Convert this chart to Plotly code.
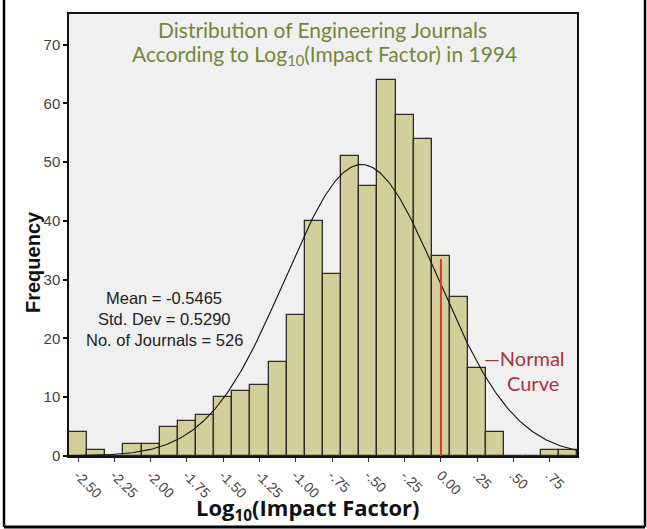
import numpy as np
import plotly.graph_objects as go

# ---- data ----
bin_centers = [-2.5, -2.375, -2.25, -2.125, -2.0, -1.875, -1.75, -1.625, -1.5, -1.375,
               -1.25, -1.125, -1.0, -0.875, -0.75, -0.625, -0.5, -0.375, -0.25, -0.125,
               0.0, 0.125, 0.25, 0.375, 0.5, 0.625, 0.75, 0.875]
frequencies = [4, 1, 0, 2, 2, 5, 6, 7, 10, 11,
               12, 16, 24, 40, 31, 51, 46, 64, 58, 54,
               34, 27, 15, 4, 0, 0, 1, 1]
bin_width = 0.125
tick_values = [-2.5, -2.25, -2.0, -1.75, -1.5, -1.25, -1.0, -0.75, -0.5, -0.25, 0.0, 0.25, 0.5, 0.75]
tick_labels = ["-2.50", "-2.25", "-2.00", "-1.75", "-1.50", "-1.25", "-1.00",
               "-.75", "-.50", "-.25", "0.00", ".25", ".50", ".75"]
y_ticks = [0, 10, 20, 30, 40, 50, 60, 70]
mean_val = -0.5465
std_val = 0.5290
n_journals = 526
stats_lines = ["Mean = -0.5465", "Std. Dev = 0.5290", "No. of Journals = 526"]
title_lines = ["Distribution of Engineering Journals",
               "According to Log<sub>10</sub>(Impact Factor) in 1994"]
marker_x = 0.0          # red line position (log10 IF = 0)
marker_height = 33.5

x_min = bin_centers[0] - bin_width / 2
x_max = bin_centers[-1] + bin_width / 2

# normal curve from summary stats
xc = np.linspace(x_min, x_max, 300)
yc = n_journals * bin_width / (std_val * np.sqrt(2 * np.pi)) * np.exp(-0.5 * ((xc - mean_val) / std_val) ** 2)

fig = go.Figure()
fig.add_trace(go.Bar(
    x=bin_centers, y=frequencies, width=bin_width,
    marker=dict(color="#D3CF9B", line=dict(color="#2a2a2a", width=1.3)),
    hoverinfo="x+y", showlegend=False,
))
fig.add_trace(go.Scatter(
    x=xc, y=yc, mode="lines", line=dict(color="#111111", width=1.1),
    showlegend=False, hoverinfo="skip",
))
fig.add_trace(go.Scatter(
    x=[marker_x, marker_x], y=[0, marker_height], mode="lines",
    line=dict(color="#E8352A", width=2), showlegend=False, hoverinfo="skip",
))

L, R, T, B = 69, 70, 14, 73
W, H = 647, 529
pw, ph = W - L - R, H - T - B

def px(xp):
    return (xp - L) / pw

def py(yp):
    return (H - B - yp) / ph

annotations = [
    dict(xref="paper", yref="paper", x=px(322), y=py(30), xanchor="center", yanchor="middle",
         text=title_lines[0], showarrow=False,
         font=dict(family="Lato", size=21, color="#75863A")),
    dict(xref="paper", yref="paper", x=px(324), y=py(55), xanchor="center", yanchor="middle",
         text=title_lines[1], showarrow=False,
         font=dict(family="Lato", size=21, color="#75863A")),
    dict(xref="paper", yref="paper", x=px(524), y=py(358), xanchor="center", yanchor="middle",
         text="\u2014Normal", showarrow=False,
         font=dict(family="Lato", size=20, color="#A8353F")),
    dict(xref="paper", yref="paper", x=px(533), y=py(383), xanchor="center", yanchor="middle",
         text="Curve", showarrow=False,
         font=dict(family="Lato", size=20, color="#A8353F")),
    dict(xref="paper", yref="paper", x=px(308), y=py(509), xanchor="center", yanchor="middle",
         text="<b>Log<sub>10</sub>(Impact Factor)</b>",
         showarrow=False, font=dict(family="Open Sans", size=22, color="#111111")),
    dict(xref="paper", yref="paper", x=px(33), y=py(262), xanchor="center", yanchor="middle",
         text="<b>Frequency</b>", textangle=-90,
         showarrow=False, font=dict(family="Liberation Sans", size=20, color="#111111")),
]
for i, line in enumerate(stats_lines):
    annotations.append(dict(
        xref="paper", yref="paper", x=px(164), y=py(298 + 21 * i), xanchor="center", yanchor="middle",
        text=line, showarrow=False,
        font=dict(family="Liberation Sans", size=16.5, color="#222222")))

fig.update_layout(
    width=W, height=H,
    margin=dict(l=L, r=R, t=T, b=B),
    paper_bgcolor="white", plot_bgcolor="#F0F0F0",
    bargap=0,
    font=dict(family="Liberation Sans, Arial", color="#333333"),
    xaxis=dict(
        range=[x_min, x_max], tickmode="array", tickvals=tick_values, ticktext=tick_labels,
        tickangle=45, tickfont=dict(size=14, color="#444444"),
        ticks="outside", ticklen=4, tickwidth=1, tickcolor="#333",
        showline=True, linecolor="#111", linewidth=1.5, mirror=True,
        showgrid=False, zeroline=False,
    ),
    yaxis=dict(
        range=[0, 75.2], tickmode="array", tickvals=y_ticks,
        tickfont=dict(size=15, color="#444444"),
        ticks="outside", ticklen=4, tickwidth=2, tickcolor="#111",
        showline=True, linecolor="#111", linewidth=1.5, mirror=True,
        showgrid=False, zeroline=False,
    ),
    annotations=annotations,
    shapes=[
        dict(type="line", xref="paper", yref="paper", x0=px(4), x1=px(4), y0=py(527), y1=py(0),
             line=dict(color="black", width=2.5)),
        dict(type="line", xref="paper", yref="paper", x0=px(645), x1=px(645), y0=py(527), y1=py(0),
             line=dict(color="black", width=2.5)),
        dict(type="line", xref="paper", yref="paper", x0=px(4), x1=px(645), y0=py(527), y1=py(527),
             line=dict(color="black", width=3)),
    ],
)

fig.write_html("out.html", config={"displayModeBar": False},
               post_script="document.body.style.margin='0';document.body.style.overflow='hidden';")
